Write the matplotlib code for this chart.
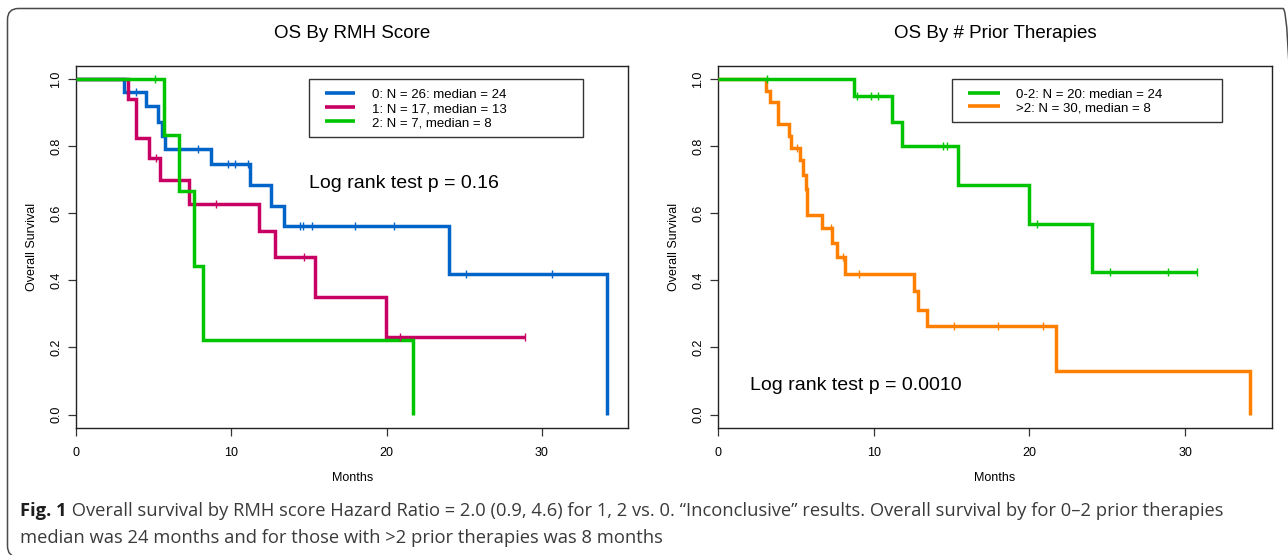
import matplotlib
matplotlib.use("Agg")
import matplotlib.pyplot as plt
from matplotlib.patches import FancyBboxPatch, Rectangle
from matplotlib.lines import Line2D
from matplotlib.transforms import IdentityTransform
import numpy as np

plt.rcParams['font.family'] = ['Liberation Sans', 'DejaVu Sans']

# ---------------- data ----------------
xticks = [0, 10, 20, 30]
yticks = [0.0, 0.2, 0.4, 0.6, 0.8, 1.0]
ytick_labels = ["0.0", "0.2", "0.4", "0.6", "0.8", "1.0"]

left_title = "OS By RMH Score"
right_title = "OS By # Prior Therapies"
xlabel = "Months"
ylabel = "Overall Survival"
left_pval = "Log rank test p = 0.16"
right_pval = "Log rank test p = 0.0010"

left_labels = ["0: N = 26: median = 24", "1: N = 17, median = 13", "2: N = 7, median = 8"]
left_colors = ["#0064C8", "#C80064", "#00C400"]

# RMH score 0
g0_times = [3.05, 4.5, 5.25, 5.5, 5.7, 8.7, 11.2, 12.55, 13.4, 24.0, 34.2]
g0_surv = [0.962, 0.918, 0.873, 0.831, 0.792, 0.748, 0.685, 0.621, 0.562, 0.42, 0.0]
g0_end = 34.2
g0_cens = [3.88, 7.85, 9.77, 10.24, 11.1, 14.45, 14.6, 15.2, 17.95, 20.5, 25.1, 30.7]
# RMH score 1
g1_times = [3.33, 3.87, 4.7, 5.4, 7.27, 11.81, 12.78, 15.41, 19.98]
g1_surv = [0.941, 0.824, 0.763, 0.699, 0.626, 0.547, 0.468, 0.35, 0.232]
g1_end = 28.9
g1_cens = [5.11, 8.99, 14.65, 20.86, 28.9]
# RMH score 2
g2_times = [5.67, 6.62, 7.59, 8.15, 21.72]
g2_surv = [0.833, 0.667, 0.444, 0.222, 0.0]
g2_end = 21.72
g2_cens = [5.05]

right_labels = ["0-2: N = 20: median = 24", ">2: N = 30, median = 8"]
right_colors = ["#00C400", "#FF8000"]

# 0-2 prior therapies
p0_times = [8.72, 11.18, 11.78, 15.42, 19.97, 24.04]
p0_surv = [0.948, 0.871, 0.799, 0.685, 0.569, 0.425]
p0_end = 30.75
p0_cens = [3.1, 8.93, 9.79, 10.24, 14.46, 14.68, 20.5, 25.17, 28.92, 30.75]
# >2 prior therapies
p1_times = [3.07, 3.32, 3.86, 4.56, 4.67, 5.25, 5.46, 5.62, 5.68, 6.68, 7.33, 7.65,
            8.14, 12.6, 12.81, 13.4, 21.69, 34.2]
p1_surv = [0.964, 0.931, 0.867, 0.829, 0.794, 0.757, 0.713, 0.673, 0.594, 0.557, 0.511, 0.468,
           0.42, 0.367, 0.313, 0.2625, 0.131, 0.0]
p1_end = 34.2
p1_cens = [5.04, 7.22, 7.99, 9.04, 15.16, 17.98, 20.85]

caption_bold = "Fig. 1"
caption_line1 = (" Overall survival by RMH score Hazard Ratio = 2.0 (0.9, 4.6) for 1, 2 vs. 0. "
                 "\u201cInconclusive\u201d results. Overall survival by for 0\u20132 prior therapies")
caption_line2 = "median was 24 months and for those with >2 prior therapies was 8 months"

# ---------------- layout ----------------
W, H = 1288, 555
fig = plt.figure(figsize=(W / 100, H / 100), dpi=100)
fig.patch.set_facecolor("white")


def fig_rect(l, t, r, b):
    return [l / W, 1 - b / H, (r - l) / W, (b - t) / H]


# rounded outer frame
frame = FancyBboxPatch((7.5, H - 557), 1294 - 7.5, 557 - 8.5,
                       boxstyle="round,pad=0,rounding_size=11",
                       transform=IdentityTransform(), fill=False,
                       ec="#4a4a4a", lw=1.1)
fig.add_artist(frame)

AX_T, AX_B = 65.5, 428.0
axL_px = (76.3, 628.0)
axR_px = (718.3, 1271.7)
axL = fig.add_axes(fig_rect(axL_px[0], AX_T, axL_px[1], AX_B))
axR = fig.add_axes(fig_rect(axR_px[0], AX_T, axR_px[1], AX_B))


def style(ax):
    ax.set_xlim(0, 35.57)
    ax.set_ylim(-0.04, 1.04)
    ax.set_xticks(xticks)
    ax.set_xticklabels([str(t) for t in xticks])
    ax.set_yticks(yticks)
    ax.set_yticklabels(ytick_labels, rotation=90, va="center")
    ax.tick_params(axis="both", direction="out", length=6, width=0.9,
                   color="#333333", labelsize=9)
    ax.tick_params(axis="x", pad=8)
    ax.tick_params(axis="y", pad=4)
    for s in ax.spines.values():
        s.set_linewidth(1.0)
        s.set_color("#222222")


def km(ax, times, surv, end, cens, color):
    x = [0.0] + list(times)
    y = [1.0] + list(surv)
    if end > x[-1]:
        x.append(end)
        y.append(y[-1])
    ax.step(x, y, where="post", color=color, lw=2.5, solid_joinstyle="miter",
            solid_capstyle="butt", zorder=3)
    levels = np.array([1.0] + list(surv))
    idx = np.searchsorted(np.array(times), np.array(cens), side="right")
    ax.plot(cens, levels[idx], ls="none", marker="|", ms=5.5, mew=1.0,
            color=color, zorder=4)


def px_to_ax(ax_px, px, py):
    l, r = ax_px
    return (px - l) / (r - l), (AX_B - py) / (AX_B - AX_T)


def legend_box(ax, ax_px, box, line_x, text_x, rows, labels, colors):
    l, t, r, b = box
    x0, y0 = px_to_ax(ax_px, l, b)
    x1, y1 = px_to_ax(ax_px, r, t)
    ax.add_patch(Rectangle((x0, y0), x1 - x0, y1 - y0, transform=ax.transAxes,
                           fill=True, fc="white", ec="#333333", lw=1.0, zorder=5))
    for ry, lab, col in zip(rows, labels, colors):
        lx0, ly = px_to_ax(ax_px, line_x[0], ry - 2.5)
        lx1, _ = px_to_ax(ax_px, line_x[1], ry - 2.5)
        ax.add_line(Line2D([lx0, lx1], [ly, ly], transform=ax.transAxes,
                           color=col, lw=2.6, zorder=6, solid_capstyle="butt"))
        tx, ty = px_to_ax(ax_px, text_x, ry)
        ax.text(tx, ty, lab, transform=ax.transAxes, ha="left", va="center",
                fontsize=9.5, zorder=6)


for ax, ax_px, title in [(axL, axL_px, left_title), (axR, axR_px, right_title)]:
    style(ax)
    tx, ty = px_to_ax(ax_px, 0, 33)
    ax.text(0.5, ty, title, transform=ax.transAxes, ha="center", va="center", fontsize=13.5)
    lx, _ = px_to_ax(ax_px, ax_px[0] - 44, 0)
    ax.text(lx, 0.5, ylabel, transform=ax.transAxes, ha="center", va="center",
            rotation=90, fontsize=9)
    _, my = px_to_ax(ax_px, 0, 478)
    ax.text(0.5, my, xlabel, transform=ax.transAxes, ha="center", va="center", fontsize=9)

# left panel curves
km(axL, g0_times, g0_surv, g0_end, g0_cens, left_colors[0])
km(axL, g1_times, g1_surv, g1_end, g1_cens, left_colors[1])
km(axL, g2_times, g2_surv, g2_end, g2_cens, left_colors[2])
legend_box(axL, axL_px, (308.5, 79, 583, 137), (325, 355), 372, [95, 109, 123],
           left_labels, left_colors)
px, py = px_to_ax(axL_px, 309, 184)
axL.text(px, py, left_pval, transform=axL.transAxes, ha="left", va="center", fontsize=14)

# right panel curves
km(axR, p1_times, p1_surv, p1_end, p1_cens, right_colors[1])
km(axR, p0_times, p0_surv, p0_end, p0_cens, right_colors[0])
legend_box(axR, axR_px, (952.3, 79, 1222.3, 122.3), (968, 1000), 1016, [95, 108.5],
           right_labels, right_colors)
px, py = px_to_ax(axR_px, 750, 385)
axR.text(px, py, right_pval, transform=axR.transAxes, ha="left", va="center", fontsize=14)

# caption (fit line 1 to its width in the reference)
cap_font = ["Open Sans", "DejaVu Sans"]
renderer = fig.canvas.get_renderer()
fs0 = 11.0
tb = fig.text(20 / W, 1 - 516 / H, caption_bold, fontfamily=cap_font, fontweight="bold",
              fontsize=fs0, color="#1e1e1e", ha="left", va="baseline")
tr = fig.text(0, 1 - 516 / H, caption_line1, fontfamily=cap_font, fontsize=fs0,
              color="#3a3a3a", ha="left", va="baseline")
wb = tb.get_window_extent(renderer).width
wr = tr.get_window_extent(renderer).width
fs = fs0 * (1226 - 20) / (wb + wr)
tb.set_fontsize(fs)
tr.set_fontsize(fs)
wb = tb.get_window_extent(renderer).width
tr.set_x((20 + wb) / W)
fig.text(20 / W, 1 - 543 / H, caption_line2, fontfamily=cap_font, fontsize=fs,
         color="#3a3a3a", ha="left", va="baseline")

fig.savefig("out.png", dpi=100, facecolor="white")
